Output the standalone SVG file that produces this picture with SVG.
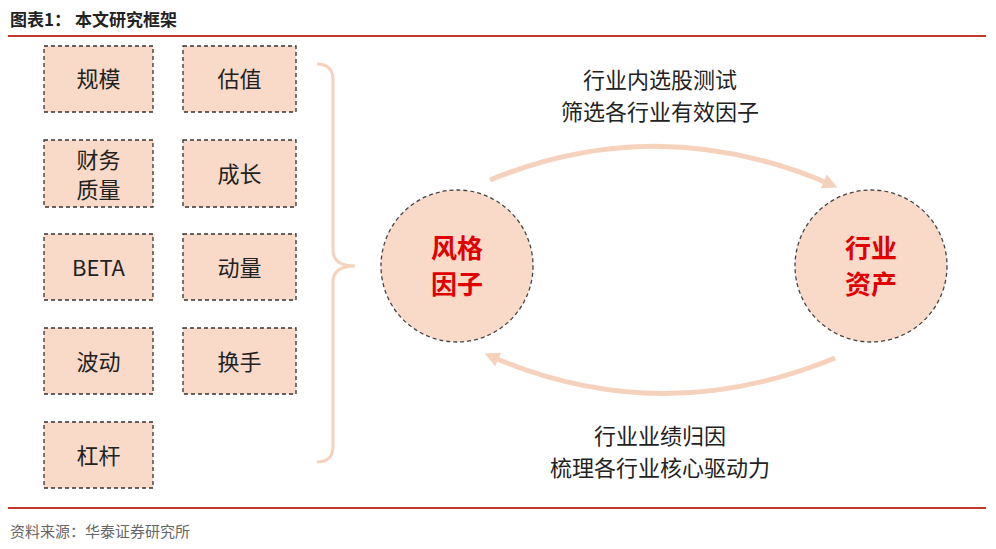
<svg xmlns="http://www.w3.org/2000/svg" width="996" height="549" viewBox="0 0 996 549">
<style>
text{font-family:"Noto Sans CJK SC","Liberation Sans",sans-serif;fill:#222}
.box{fill:#f9dac9;stroke:#333;stroke-width:1.3;stroke-dasharray:4 3}
.bt{font-size:22px;text-anchor:middle}
.circ{fill:#f9dac9;stroke:#444;stroke-width:1.3;stroke-dasharray:4 3}
.ct{font-size:26px;font-weight:bold;fill:#e00000;text-anchor:middle}
.lt{font-size:22px;text-anchor:middle}
.arc{fill:none;stroke:#f6d2bd;stroke-width:5}
</style>
<defs><marker id="ah" viewBox="0 0 10 10" refX="6" refY="5" markerWidth="3" markerHeight="3" orient="auto"><path d="M0,0L10,5L0,10z" fill="#f6d2bd"/></marker></defs>
<rect width="996" height="549" fill="#fff"/>
<text x="10" y="26" style="font-size:17px;font-weight:bold">图表1：   本文研究框架</text>
<line x1="8" y1="36" x2="986" y2="36" stroke="#c0392b" stroke-width="2"/>
<g id="n1"><rect class="box" x="44" y="46" width="109" height="66"/><text class="bt" x="98.5" y="87">规模</text></g>
<g id="n2"><rect class="box" x="183" y="46" width="113" height="66"/><text class="bt" x="239.5" y="87">估值</text></g>
<g id="n3"><rect class="box" x="44" y="140" width="109" height="67"/><text class="bt" x="98.5" y="168">财务</text><text class="bt" x="98.5" y="198">质量</text></g>
<g id="n4"><rect class="box" x="183" y="140" width="113" height="67"/><text class="bt" x="239.5" y="182">成长</text></g>
<g id="n5"><rect class="box" x="44" y="234" width="109" height="66"/><text class="bt" x="98.5" y="276">BETA</text></g>
<g id="n6"><rect class="box" x="183" y="234" width="113" height="66"/><text class="bt" x="239.5" y="276">动量</text></g>
<g id="n7"><rect class="box" x="44" y="328" width="109" height="66"/><text class="bt" x="98.5" y="370">波动</text></g>
<g id="n8"><rect class="box" x="183" y="328" width="113" height="66"/><text class="bt" x="239.5" y="370">换手</text></g>
<g id="n9"><rect class="box" x="44" y="422" width="109" height="66"/><text class="bt" x="98.5" y="464">杠杆</text></g>
<g id="c1"><circle class="circ" cx="457" cy="266" r="76"/><text class="ct" x="457" y="258">风格</text><text class="ct" x="457" y="294">因子</text></g>
<g id="c2"><circle class="circ" cx="871" cy="266" r="76"/><text class="ct" x="871" y="258">行业</text><text class="ct" x="871" y="294">资产</text></g>
<g id="connectors">
<path d="M317,64 Q333,64 333,80 L333,250 Q333,266 355,266 Q333,266 333,282 L333,446 Q333,462 317,462" fill="none" stroke="#f6d2bd" stroke-width="3"/>
<path class="arc" d="M490,180 Q660,110 832,185" marker-end="url(#ah)"/>
<path class="arc" d="M835,358 Q660,430 490,356" marker-end="url(#ah)"/>
</g>
<text class="lt" x="660" y="88">行业内选股测试</text>
<text class="lt" x="660" y="120">筛选各行业有效因子</text>
<text class="lt" x="660" y="444">行业业绩归因</text>
<text class="lt" x="660" y="476">梳理各行业核心驱动力</text>
<line x1="8" y1="508" x2="986" y2="508" stroke="#c0392b" stroke-width="2"/>
<text x="10" y="537" style="font-size:15px;fill:#666">资料来源：华泰证券研究所</text>
</svg>
